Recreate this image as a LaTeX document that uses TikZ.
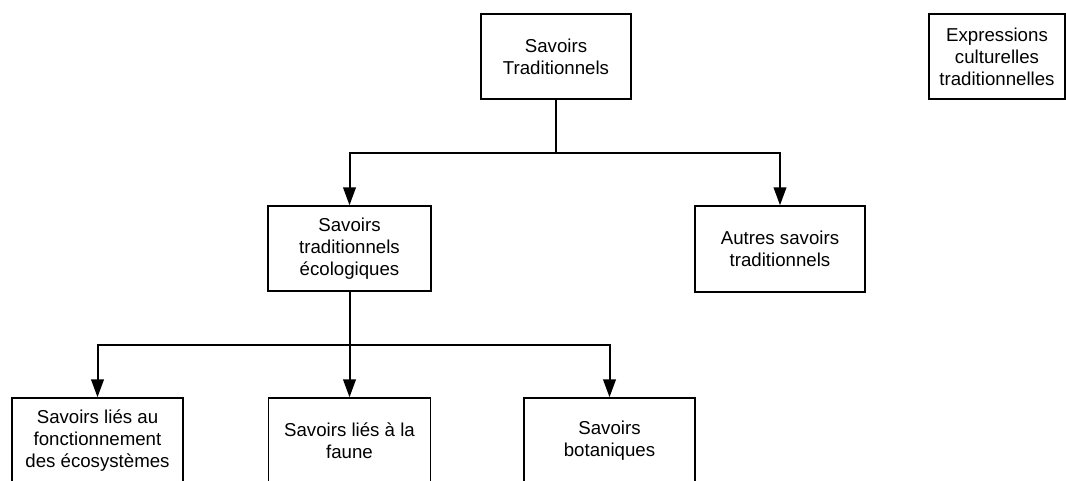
\documentclass[tikz,border=0pt]{standalone}
\usepackage{fontspec}
\setmainfont{Liberation Sans}
\usetikzlibrary{arrows.meta}

\begin{document}
\begin{tikzpicture}[x=0.75pt, y=-0.75pt, box node/.style={rectangle, draw, line width=1.1pt, align=center, minimum height=63.75pt, inner sep=1pt, font=\fontsize{14}{16.5}\selectfont}, link/.style={line width=1.5pt}, arrow link/.style={line width=1.5pt, -{Triangle[length=13.5pt,width=9.5pt]}}]
\clip (0,0) rectangle (1066,481);

% top row
\node[box node, minimum width=112.5pt] (trad) at (556, 56.5) {Savoirs\\Traditionnels};
\node[box node, minimum width=102pt] (expr) at (997, 56.5) {Expressions\\culturelles\\traditionnelles};

% middle row
\node[box node, minimum width=122.25pt] (eco) at (349.5, 248.5) {Savoirs\\traditionnels\\écologiques};
\node[box node, minimum width=127.5pt, minimum height=64.5pt] (autres) at (780, 249) {Autres savoirs\\traditionnels};

% bottom row
\node[box node, minimum width=128.25pt] (ecosys) at (97.5, 440.5) {Savoirs liés au\\fonctionnement\\des écosystèmes};
\node[box node, minimum width=121.5pt] (faune) at (349.5, 440.5) {Savoirs liés à la\\faune};
\node[box node, minimum width=128.25pt] (bota) at (609.5, 440.5) {Savoirs\\botaniques};

% junctions
\coordinate (j1) at (556, 153);
\coordinate (j2) at (349.5, 345);

% top -> middle
\draw[link] (trad) -- (j1);
\draw[arrow link] (j1) -| (eco.north);
\draw[arrow link] (j1) -| (autres.north);

% middle -> bottom
\draw[link] (eco) -- (j2);
\draw[arrow link] (j2) -| (ecosys.north);
\draw[arrow link] (j2) -- (faune.north);
\draw[arrow link] (j2) -| (bota.north);

\end{tikzpicture}
\end{document}
